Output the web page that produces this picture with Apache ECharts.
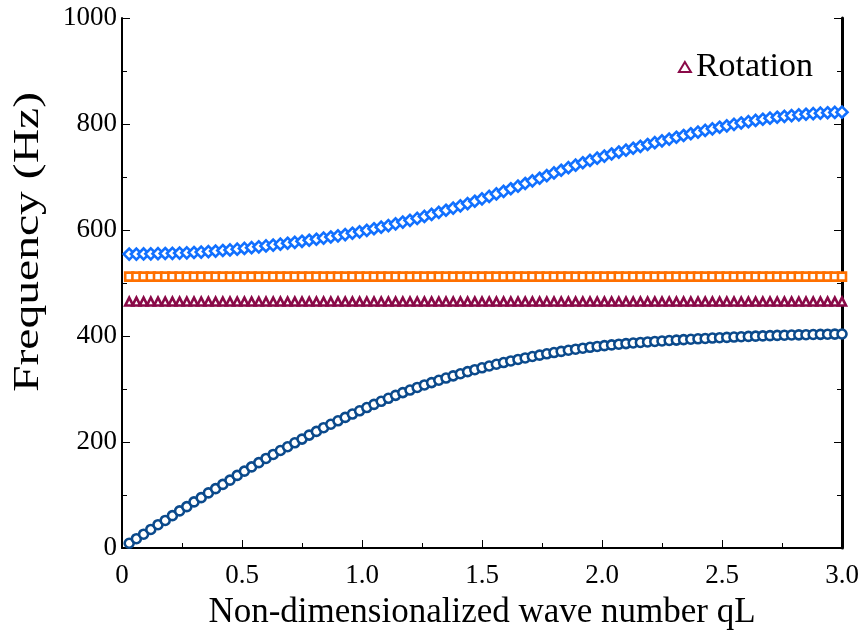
<!DOCTYPE html>
<html>
<head>
<meta charset="utf-8">
<script src="https://cdn.jsdelivr.net/npm/echarts@6/dist/echarts.min.js"></script>
<style>
  html, body { margin: 0; padding: 0; background: #fff; }
  #chart { width: 864px; height: 630px; }
</style>
</head>
<body>
<div id="chart"></div>
<script>
// wave number qL sampled every 0.03
var qL = [0.03,0.06,0.09,0.12,0.15,0.18,0.21,0.24,0.27,0.30,
  0.33,0.36,0.39,0.42,0.45,0.48,0.51,0.54,0.57,0.60,
  0.63,0.66,0.69,0.72,0.75,0.78,0.81,0.84,0.87,0.90,
  0.93,0.96,0.99,1.02,1.05,1.08,1.11,1.14,1.17,1.20,
  1.23,1.26,1.29,1.32,1.35,1.38,1.41,1.44,1.47,1.50,
  1.53,1.56,1.59,1.62,1.65,1.68,1.71,1.74,1.77,1.80,
  1.83,1.86,1.89,1.92,1.95,1.98,2.01,2.04,2.07,2.10,
  2.13,2.16,2.19,2.22,2.25,2.28,2.31,2.34,2.37,2.40,
  2.43,2.46,2.49,2.52,2.55,2.58,2.61,2.64,2.67,2.70,
  2.73,2.76,2.79,2.82,2.85,2.88,2.91,2.94,2.97,3.00];

var acoustic = [9,17.5,26,35,44,52,61,70,78,87,
  95,104,112,120,128,137,145,153,161,169,
  176.5,184,191,198.5,205.5,213,220,227,233.5,240,
  246.4,252.7,258.9,265,271,276.8,282.5,288,293.2,298,
  302.9,307.6,312.1,316.5,320.7,324.8,328.8,332.7,336.4,340,
  343.4,346.7,349.9,352.9,355.8,358.6,361.3,363.9,366.4,368.8,
  371,373.1,375.1,377,378.7,380.3,381.8,383.2,384.5,385.7,
  386.8,387.8,388.8,389.7,390.6,391.5,392.3,393.1,393.9,394.7,
  395.4,396.1,396.8,397.4,398,398.6,399.2,399.7,400.2,400.7,
  401.1,401.5,401.9,402.2,402.5,402.8,403.1,403.4,403.6,403.8];

var optical = [554.5,554.6,554.8,555,555.3,555.6,556,556.4,556.9,557.5,
  558.3,559.2,560.2,561.3,562.5,563.8,565.2,566.7,568.3,570,
  571.6,573.3,575,576.8,578.7,580.6,582.6,584.7,586.8,589,
  591.4,593.9,596.6,599.4,602.3,605.3,608.4,611.6,614.9,618.3,
  621.9,625.6,629.4,633.3,637.3,641.4,645.6,649.9,654.3,658.8,
  663.4,668.1,672.9,677.8,682.7,687.7,692.7,697.7,702.7,707.7,
  712.7,717.6,722.3,726.9,731.3,735.5,739.5,743.4,747.1,750.6,
  754.2,757.8,761.3,764.8,768.2,771.6,775,778.3,781.6,784.8,
  787.9,790.9,793.8,796.6,799.3,801.9,804.4,806.8,809,811,
  812.8,814.4,815.9,817.2,818.4,819.5,820.4,821.2,821.8,822.3];

var flat = [512,512,512,512,512,512,512,512,512,512,
  512,512,512,512,512,512,512,512,512,512,
  512,512,512,512,512,512,512,512,512,512,
  512,512,512,512,512,512,512,512,512,512,
  512,512,512,512,512,512,512,512,512,512,
  512,512,512,512,512,512,512,512,512,512,
  512,512,512,512,512,512,512,512,512,512,
  512,512,512,512,512,512,512,512,512,512,
  512,512,512,512,512,512,512,512,512,512,
  512,512,512,512,512,512,512,512,512,512];

var rotation = [465,465,465,465,465,465,465,465,465,465,
  465,465,465,465,465,465,465,465,465,465,
  465,465,465,465,465,465,465,465,465,465,
  465,465,465,465,465,465,465,465,465,465,
  465,465,465,465,465,465,465,465,465,465,
  465,465,465,465,465,465,465,465,465,465,
  465,465,465,465,465,465,465,465,465,465,
  465,465,465,465,465,465,465,465,465,465,
  465,465,465,465,465,465,465,465,465,465,
  465,465,465,465,465,465,465,465,465,465];

function pairs(ys) {
  return qL.map(function (x, i) { return [x, ys[i]]; });
}

var font = 'Liberation Serif';

function hollow(name, symbol, size, color, ys) {
  return {
    name: name,
    type: 'scatter',
    symbol: symbol,
    symbolSize: size,
    data: pairs(ys),
    itemStyle: { color: '#fff', borderColor: color, borderWidth: 2.6, opacity: 1 },
    emphasis: { disabled: true }
  };
}

var myChart = echarts.init(document.getElementById('chart'));
myChart.setOption({
  animation: false,
  backgroundColor: '#fff',
  grid: { left: 122, right: 22, top: 18, bottom: 82, containLabel: false, outerBoundsMode: 'none' },
  legend: {
    data: ['Rotation'],
    right: 46, top: 45,
    itemWidth: 12, itemHeight: 10, itemGap: 17,
    textStyle: { fontFamily: font, fontSize: 34, color: '#000' }
  },
  graphic: [{
    type: 'text',
    x: 29, y: 242,
    rotation: Math.PI / 2,
    scaleX: 1.36,
    style: {
      text: 'Frequency (Hz)',
      font: '35px "Liberation Serif"',
      fill: '#000',
      textAlign: 'center',
      textVerticalAlign: 'middle'
    }
  }],
  xAxis: {
    type: 'value', min: 0, max: 3, interval: 0.5,
    name: 'Non-dimensionalized wave number qL',
    nameLocation: 'middle', nameGap: 47,
    nameTextStyle: { fontFamily: font, fontSize: 35, color: '#000' },
    axisLine: { lineStyle: { color: '#000', width: 2 } },
    axisTick: { inside: true, length: 8, lineStyle: { color: '#000' } },
    minorTick: { show: true, splitNumber: 2, length: 5, lineStyle: { color: '#000' } },
    splitLine: { show: false },
    axisLabel: {
      fontFamily: font, fontSize: 27, color: '#000', margin: 14,
      formatter: function (v) { return v === 0 ? '0' : v.toFixed(1); }
    }
  },
  yAxis: [
    {
      type: 'value', min: 0, max: 1000, interval: 200,
      axisLine: { show: true, lineStyle: { color: '#000', width: 2 } },
      axisTick: { inside: true, length: 8, lineStyle: { color: '#000' } },
      minorTick: { show: true, splitNumber: 2, length: 5, lineStyle: { color: '#000' } },
      splitLine: { show: false },
      axisLabel: {
        fontFamily: font, fontSize: 27, color: '#000', margin: 5,
        formatter: function (v) { return String(v); }
      }
    },
    {
      type: 'value', min: 0, max: 1000, interval: 200, position: 'right',
      axisLine: { show: true, lineStyle: { color: '#000', width: 3 } },
      axisTick: { inside: true, length: 8, lineStyle: { color: '#000' } },
      minorTick: { show: true, splitNumber: 2, length: 5, lineStyle: { color: '#000' } },
      axisLabel: { show: false }, splitLine: { show: false }
    }
  ],
  series: [
    hollow('Acoustic', 'circle', 9, '#0b4a8c', acoustic),
    hollow('Optical', 'diamond', 11, '#1170ff', optical),
    hollow('Flat', 'rect', 8, '#ff7000', flat),
    hollow('Rotation', 'triangle', 8, '#8a0a48', rotation)
  ]
});
</script>
</body>
</html>
